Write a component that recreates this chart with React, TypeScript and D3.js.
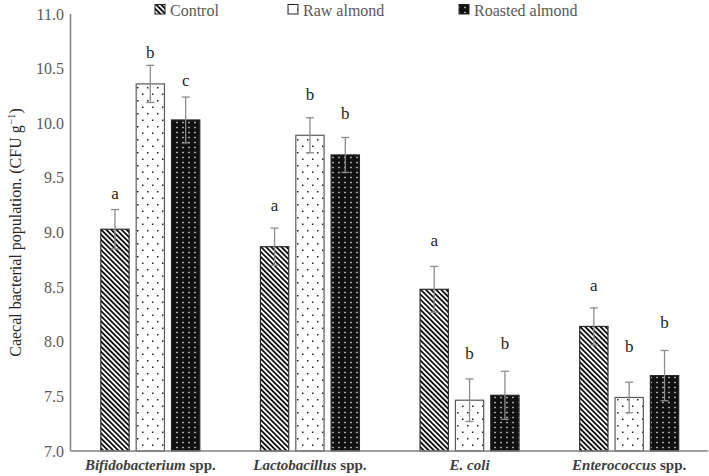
import React from "react";
import * as d3 from "d3";

const categories = ["Bifidobacterium", "Lactobacillus", "E. coli", "Enterococcus"];
const categorySuffix = [" spp.", " spp.", "", " spp."];
const seriesNames = ["Control", "Raw almond", "Roasted almond"];

const controlValues = [9.03, 8.87, 8.48, 8.14];
const rawValues = [10.36, 9.89, 7.465, 7.49];
const roastedValues = [10.03, 9.71, 7.51, 7.69];

const controlErrors = [0.18, 0.17, 0.21, 0.17];
const rawErrors = [0.17, 0.16, 0.195, 0.14];
const roastedErrors = [0.21, 0.16, 0.22, 0.23];

const controlLetters = ["a", "a", "a", "a"];
const rawLetters = ["b", "b", "b", "b"];
const roastedLetters = ["c", "b", "b", "b"];

// letter baselines (in axis units)
const controlLetterY = [9.31, 9.2, 8.88, 8.465];
const rawLetterY = [10.6, 10.21, 7.84, 7.905];
const roastedLetterY = [10.34, 10.04, 7.93, 8.125];

const yTicks = [7.0, 7.5, 8.0, 8.5, 9.0, 9.5, 10.0, 10.5, 11.0];

const W = 709;
const H = 476;
const FONT = "'Liberation Serif', 'Times New Roman', serif";

export default function App() {
  const x0 = d3
    .scaleBand<string>()
    .domain(categories)
    .range([70.5, 709])
    .paddingInner(0.38)
    .paddingOuter(0.19);
  const x1 = d3
    .scaleBand<string>()
    .domain(seriesNames)
    .range([0, x0.bandwidth()])
    .paddingInner(0.2);
  const y = d3.scaleLinear().domain([7, 11]).range([451, 14]);

  const series = [
    { name: seriesNames[0], values: controlValues, errors: controlErrors, letters: controlLetters, ly: controlLetterY, fill: "url(#pCtrl)", stroke: "#2a2a2a" },
    { name: seriesNames[1], values: rawValues, errors: rawErrors, letters: rawLetters, ly: rawLetterY, fill: "url(#pRaw)", stroke: "#595959" },
    { name: seriesNames[2], values: roastedValues, errors: roastedErrors, letters: roastedLetters, ly: roastedLetterY, fill: "url(#pRoast)", stroke: "#262626" },
  ];

  const legendX = [155, 288, 459];

  return (
    <svg
      width={W}
      height={H}
      style={{ position: "absolute", left: 0, top: 0, background: "#fff" }}
      fontFamily={FONT}
    >
      <defs>
        <pattern id="pCtrl" width="3.6" height="3.6" patternUnits="userSpaceOnUse" patternTransform="rotate(45)">
          <rect width="3.6" height="3.6" fill="#fff" />
          <rect x="0" y="0" width="3.6" height="1.8" fill="#111" />
        </pattern>
        <pattern id="pRaw" width="10" height="13" patternUnits="userSpaceOnUse">
          <rect width="10" height="13" fill="#fff" />
          <rect x="2" y="2.5" width="1.5" height="1.5" fill="#222" />
          <rect x="7" y="9" width="1.5" height="1.5" fill="#222" />
        </pattern>
        <pattern id="pRoast" width="6" height="5" patternUnits="userSpaceOnUse">
          <rect width="6" height="5" fill="#111" />
          <rect x="2.3" y="1.8" width="1.4" height="1.4" fill="#e8e8e8" />
        </pattern>
      </defs>

      {/* legend */}
      {series.map((s, i) => (
        <g key={s.name}>
          <rect x={legendX[i]} y={4.5} width={10} height={9.5} fill={s.fill} stroke="#222" strokeWidth={1} />
          <text x={legendX[i] + 15} y={15.5} fontSize={16} fill="#595959">
            {s.name}
          </text>
        </g>
      ))}

      {/* y tick labels */}
      {yTicks.map((t) => (
        <text key={t} x={64} y={y(t)} dy="0.35em" textAnchor="end" fontSize={16} fill="#595959">
          {t.toFixed(1)}
        </text>
      ))}

      {/* y title */}
      <text
        transform={`translate(21, ${y(9)}) rotate(-90)`}
        textAnchor="middle"
        fontSize={16}
        fill="#262626"
      >
        Caecal bacterial population. (CFU g
        <tspan dy="-6" fontSize={11}>−1</tspan>
        <tspan dy="6">)</tspan>
      </text>

      {/* bars */}
      {series.map((s) =>
        categories.map((c, j) => {
          const bx = (x0(c) as number) + (x1(s.name) as number);
          const bw = x1.bandwidth();
          const top = y(s.values[j]);
          return (
            <rect
              key={s.name + c}
              x={bx}
              y={top}
              width={bw}
              height={y(7) - top}
              fill={s.fill}
              stroke={s.stroke}
              strokeWidth={1.2}
            />
          );
        })
      )}

      {/* error bars */}
      {series.map((s) =>
        categories.map((c, j) => {
          const cx = (x0(c) as number) + (x1(s.name) as number) + x1.bandwidth() / 2;
          const hi = y(s.values[j] + s.errors[j]);
          const lo = y(s.values[j] - s.errors[j]);
          return (
            <g key={"e" + s.name + c} stroke="#8c8c8c" strokeWidth={1.3}>
              <line x1={cx} x2={cx} y1={hi} y2={lo} />
              <line x1={cx - 4} x2={cx + 4} y1={hi} y2={hi} />
              <line x1={cx - 4} x2={cx + 4} y1={lo} y2={lo} />
            </g>
          );
        })
      )}

      {/* letters */}
      {series.map((s) =>
        categories.map((c, j) => {
          const cx = (x0(c) as number) + (x1(s.name) as number) + x1.bandwidth() / 2;
          return (
            <text key={"l" + s.name + c} x={cx} y={y(s.ly[j])} textAnchor="middle" fontSize={17} fill="#262626">
              {s.letters[j]}
            </text>
          );
        })
      )}

      {/* axes */}
      <line x1={70.5} x2={70.5} y1={y(11)} y2={y(7)} stroke="#7f7f7f" strokeWidth={1.5} />
      <line x1={70.5} x2={708} y1={y(7)} y2={y(7)} stroke="#7f7f7f" strokeWidth={1.5} />

      {/* x labels */}
      {categories.map((c, j) => (
        <text
          key={"x" + c}
          x={(x0(c) as number) + x0.bandwidth() / 2}
          y={470}
          textAnchor="middle"
          fontSize={15}
          fontWeight="bold"
          fill="#404040"
        >
          <tspan fontStyle="italic">{c}</tspan>
          {categorySuffix[j]}
        </text>
      ))}
    </svg>
  );
}
